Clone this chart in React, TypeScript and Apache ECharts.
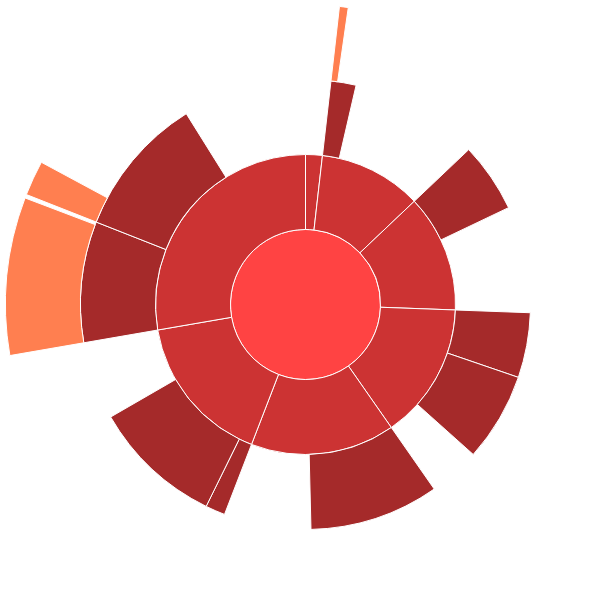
import React, { useEffect, useRef } from "react";
import * as echarts from "echarts";

// Values (proportional to the sector angles)
const rootValue = 360;
const groupValues = [6.5, 40, 45.6, 53, 56, 59.1, 99.8];
const childValues: number[][] = [[], [6.5], [18], [16.8, 22.9], [33.5], [5.1, 33.8], [31.3, 36.5]];
const grandchildValues: number[][][] = [
  [],
  [[1.7]],
  [[]],
  [[], []],
  [[]],
  [[], []],
  [[30.6], [6.8]],
];

const levelColors = ["#ff4343", "#cc3333", "#a52a2a", "#ff7f50"];

function buildData() {
  return [
    {
      name: "root",
      value: rootValue,
      children: groupValues.map((gv, i) => ({
        name: `g${i + 1}`,
        value: gv,
        children: childValues[i].map((cv, j) => ({
          name: `g${i + 1}-${j + 1}`,
          value: cv,
          children: (grandchildValues[i][j] || []).map((lv, k) => ({
            name: `g${i + 1}-${j + 1}-${k + 1}`,
            value: lv,
          })),
        })),
      })),
    },
  ];
}

export default function App() {
  const ref = useRef<HTMLDivElement>(null);
  useEffect(() => {
    if (!ref.current) return;
    const chart = echarts.init(ref.current, undefined, { renderer: "svg" });
    chart.setOption({
      animation: false,
      series: [
        {
          type: "sunburst",
          center: [305.5, 304.5],
          sort: null,
          startAngle: 90,
          nodeClick: false,
          data: buildData(),
          label: { show: false },
          emphasis: { disabled: true },
          itemStyle: { borderColor: "#fff", borderWidth: 1 },
          levels: [
            {},
            { r0: 0, r: 75, itemStyle: { color: levelColors[0] } },
            { r0: 75, r: 150, itemStyle: { color: levelColors[1] } },
            { r0: 150, r: 225, itemStyle: { color: levelColors[2] } },
            { r0: 225, r: 300, itemStyle: { color: levelColors[3] } },
          ],
        },
      ],
    });
    return () => chart.dispose();
  }, []);
  return (
    <div
      ref={ref}
      style={{ position: "fixed", left: 0, top: 0, width: 611, height: 610, background: "#fff" }}
    />
  );
}
